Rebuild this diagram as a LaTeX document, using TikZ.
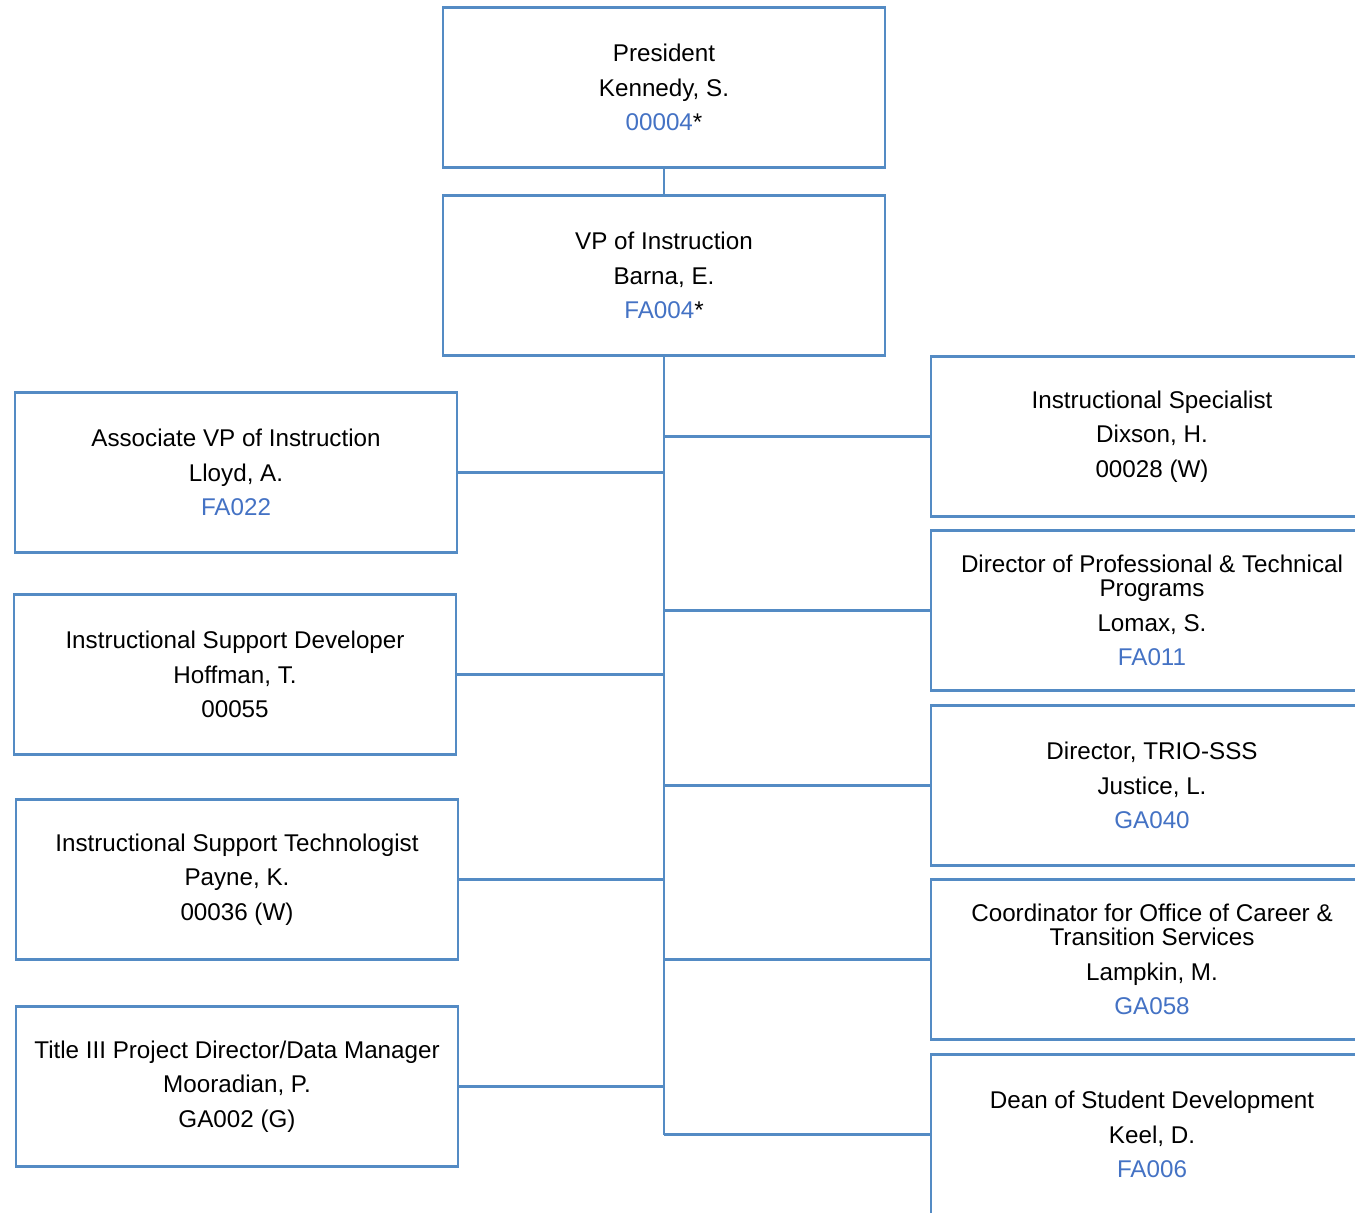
\documentclass[tikz,border=0pt]{standalone}
\usepackage{fontspec}
\setmainfont{Liberation Sans}
\usepackage{xcolor}
\definecolor{boxline}{RGB}{84,139,196}
\definecolor{codeblue}{RGB}{68,114,196}
\usetikzlibrary{calc}
\tikzset{
 box/.style={draw=boxline, line width=1.4pt, minimum width=221pt, minimum height=80pt,
  inner sep=0pt, align=center, font=\fontsize{12.1}{12.2}\selectfont},
 link/.style={draw=boxline, line width=1.4pt}
}
\newcommand{\code}[1]{\textcolor{codeblue}{#1}}

\begin{document}
\begin{tikzpicture}[x=0.5pt,y=-0.5pt]
\useasboundingbox (0,0) rectangle (1355,1213);
\clip (0,0) rectangle (1355,1213);
\node[box] (pres) at (664,87.5) {President\\[5pt]Kennedy, S.\\[5pt]\code{00004}*};
\node[box] (vp) at (664,275.5) {VP of Instruction\\[5pt]Barna, E.\\[5pt]\code{FA004}*};
\node[box] (avp) at (236,472.5) {Associate VP of Instruction\\[5pt]Lloyd, A.\\[5pt]\code{FA022}};
\node[box] (isd) at (235,674.5) {Instructional Support Developer\\[5pt]Hoffman, T.\\[5pt]00055};
\node[box] (ist) at (237,879.5) {Instructional Support Technologist\\[5pt]Payne, K.\\[5pt]00036 (W)};
\node[box] (title) at (237,1086.5) {Title III Project Director/Data Manager\\[5pt]Mooradian, P.\\[5pt]GA002 (G)};
\node[box] (ispec) at (1152,436.5) {Instructional Specialist\\[5pt]Dixson, H.\\[5pt]00028 (W)};
\node[box] (dirpt) at (1152,610.5) {Director of Professional \& Technical\\Programs\\[5pt]Lomax, S.\\[5pt]\code{FA011}};
\node[box] (trio) at (1152,785.5) {Director, TRIO-SSS\\[5pt]Justice, L.\\[5pt]\code{GA040}};
\node[box] (coord) at (1152,959.5) {Coordinator for Office of Career \&\\Transition Services\\[5pt]Lampkin, M.\\[5pt]\code{GA058}};
\node[box] (dean) at (1152,1134.5) {Dean of Student Development\\[5pt]Keel, D.\\[5pt]\code{FA006}};
\draw[link] (pres.south) -- (vp.south |- pres.south) -- (vp.north);
\draw[link] (vp.south) -- (vp.south |- dean.west);
\foreach \n in {avp,isd,ist,title} {
 \draw[link] (\n.east) -- (\n.east -| vp.south);
}
\foreach \n in {ispec,dirpt,trio,coord,dean} {
 \draw[link] (\n.west) -- (\n.west -| vp.south);
}
\end{tikzpicture}
\end{document}
